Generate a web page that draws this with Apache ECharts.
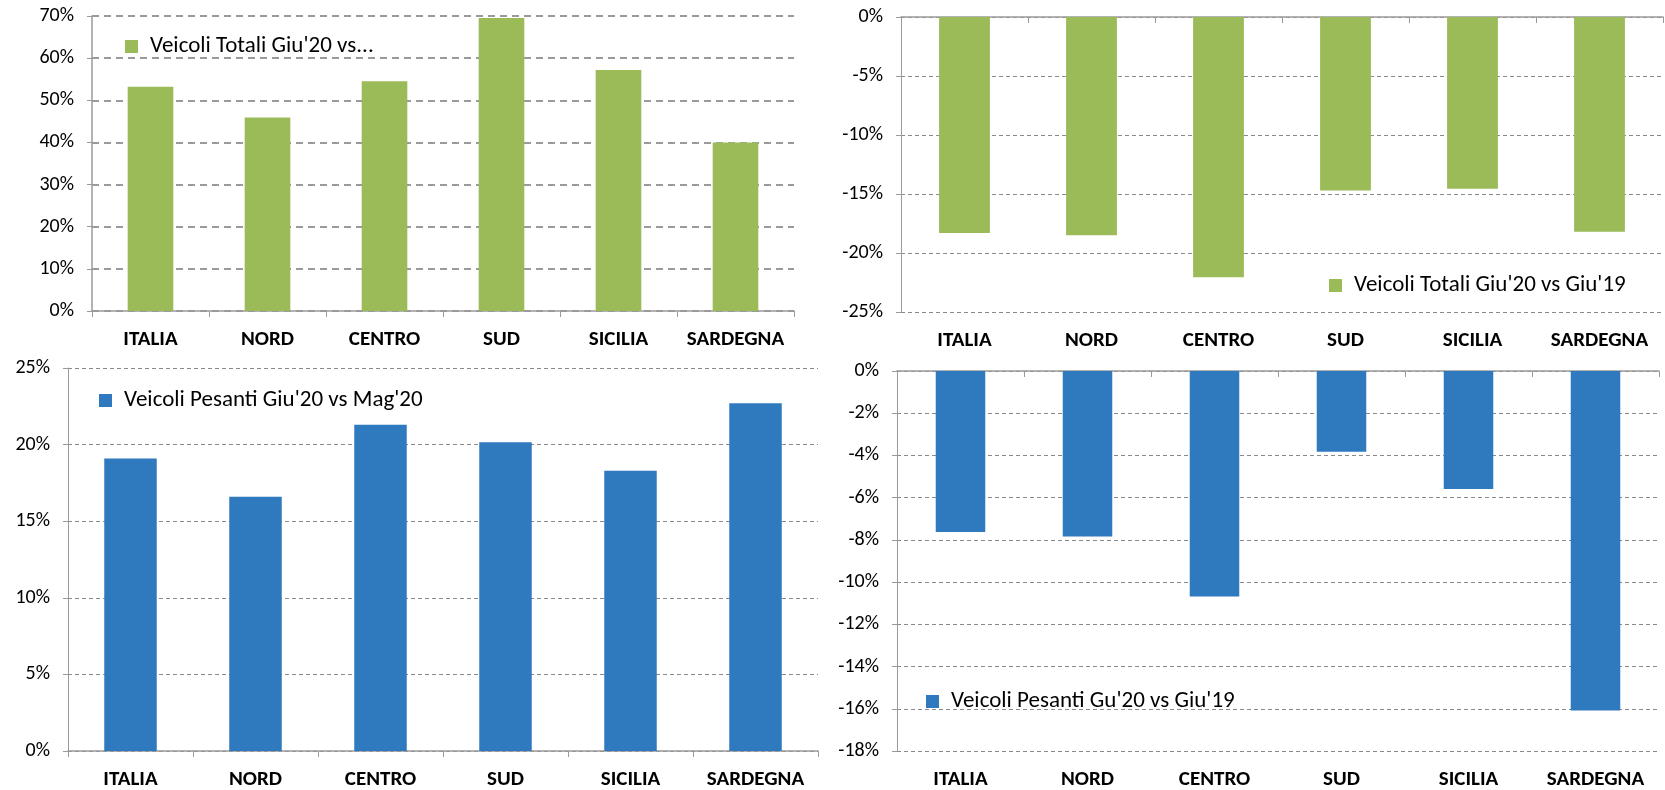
<!DOCTYPE html>
<html>
<head>
<meta charset="utf-8">
<script src="https://cdn.jsdelivr.net/npm/echarts@6/dist/echarts.min.js"></script>
<style>
html,body{margin:0;padding:0;background:#fff;}
#c{width:1665px;height:790px;}
</style>
</head>
<body>
<div id="c"></div>
<script>
const categories = ['ITALIA', 'NORD', 'CENTRO', 'SUD', 'SICILIA', 'SARDEGNA'];
const totaliGiuVsMag = [53.2, 45.9, 54.5, 69.5, 57.2, 40.0];
const totaliGiuVsGiu19 = [-18.3, -18.5, -22.05, -14.7, -14.55, -18.2];
const pesantiGiuVsMag = [19.1, 16.6, 21.3, 20.15, 18.3, 22.7];
const pesantiGiuVsGiu19 = [-7.63, -7.84, -10.68, -3.83, -5.59, -16.08];
const seriesNames = ["Veicoli Totali Giu'20 vs...", "Veicoli Totali Giu'20 vs Giu'19", "Veicoli Pesanti Giu'20 vs Mag'20", "Veicoli Pesanti Gu'20 vs Giu'19"];

const FONT = 'Carlito, Lato, sans-serif';
const GREEN = '#9BBB59';
const BLUE = '#2F79BF';
const AXIS = '#9a9a9a';

const grids = [
  {left: 92, top: 16, width: 702, height: 295},
  {left: 901, top: 17, width: 762, height: 295},
  {left: 68, top: 368, width: 750, height: 383},
  {left: 897, top: 371, width: 762, height: 381}
];

function yAxis(gi, min, max, interval, thick) {
  return {
    type: 'value', gridIndex: gi, min: min, max: max, interval: interval,
    axisLine: {show: true, lineStyle: {color: AXIS, width: thick ? 1.5 : 1}},
    axisTick: {show: true, length: 5, lineStyle: {color: AXIS}},
    axisLabel: {formatter: '{value}%', color: '#000', fontFamily: FONT, fontSize: 20, margin: 18},
    splitLine: {show: true, lineStyle: {color: thick ? '#7a7a7a' : '#8a8a8a', width: thick ? 1.5 : 1, type: thick ? [7, 5] : [4, 3]}}
  };
}
function labelAxis(gi, showLine) {
  return {
    type: 'category', gridIndex: gi, data: categories, position: 'bottom',
    axisLine: {show: showLine, onZero: false, lineStyle: {color: AXIS, width: 1.5}},
    axisTick: {show: showLine, length: 6, lineStyle: {color: AXIS}},
    axisLabel: {color: '#000', fontFamily: FONT, fontSize: 21, fontWeight: 'bold', margin: 18, interval: 0}
  };
}
function topLineAxis(gi) {
  return {
    type: 'category', gridIndex: gi, data: categories, position: 'top',
    axisLine: {show: true, onZero: false, lineStyle: {color: AXIS, width: 1.5}},
    axisTick: {show: true, inside: true, length: 6, lineStyle: {color: AXIS}},
    axisLabel: {show: false}
  };
}
function legend(name, left, top) {
  return {data: [name], left: left, top: top, padding: 0, icon: 'rect', itemWidth: 13, itemHeight: 13,
    textStyle: {fontFamily: FONT, fontSize: 23, color: '#000', lineHeight: 14, padding: [0, 0, 0, 7]}};
}

const option = {
  backgroundColor: '#fff',
  animation: false,
  grid: grids,
  legend: [
    legend(seriesNames[0], 125, 35),
    legend(seriesNames[1], 1329, 274),
    legend(seriesNames[2], 99, 389),
    legend(seriesNames[3], 926, 690)
  ],
  xAxis: [
    labelAxis(0, true),
    labelAxis(1, false),
    topLineAxis(1),
    labelAxis(2, true),
    labelAxis(3, false),
    topLineAxis(3)
  ],
  yAxis: [
    yAxis(0, 0, 70, 10, true),
    yAxis(1, -25, 0, 5, false),
    yAxis(2, 0, 25, 5, false),
    yAxis(3, -18, 0, 2, false)
  ],
  series: [
    {name: seriesNames[0], type: 'bar', xAxisIndex: 0, yAxisIndex: 0, data: totaliGiuVsMag, barWidth: '39%', itemStyle: {color: GREEN}},
    {name: seriesNames[1], type: 'bar', xAxisIndex: 1, yAxisIndex: 1, data: totaliGiuVsGiu19, barWidth: '40%', itemStyle: {color: GREEN}},
    {name: seriesNames[2], type: 'bar', xAxisIndex: 3, yAxisIndex: 2, data: pesantiGiuVsMag, barWidth: '42%', itemStyle: {color: BLUE}},
    {name: seriesNames[3], type: 'bar', xAxisIndex: 4, yAxisIndex: 3, data: pesantiGiuVsGiu19, barWidth: '39%', itemStyle: {color: BLUE}}
  ]
};
const chart = echarts.init(document.getElementById('c'), null, {renderer: 'canvas'});
chart.setOption(option);
</script>
</body>
</html>
